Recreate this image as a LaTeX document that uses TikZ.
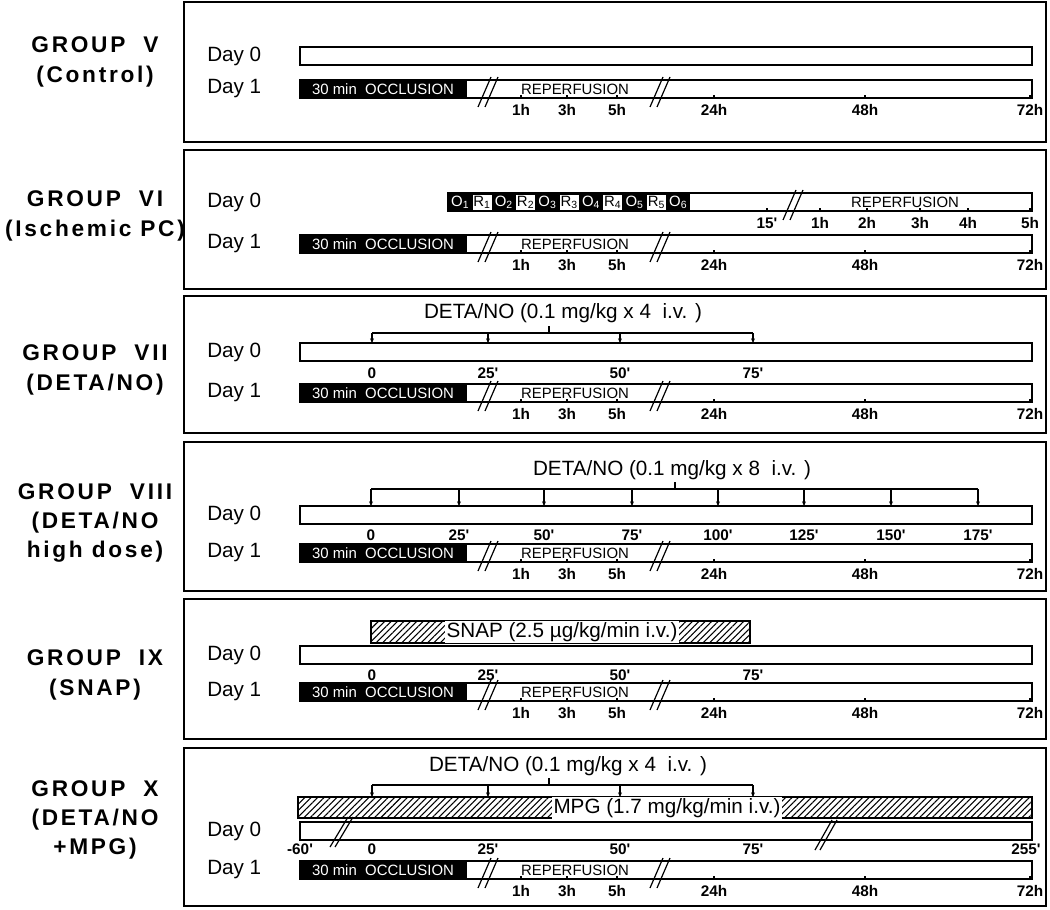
\documentclass[tikz,border=0pt]{standalone}
\usepackage{fontspec}
\setmainfont{Liberation Sans}
\newfontfamily\grpfam{Liberation Sans}[LetterSpace=12]
\usetikzlibrary{arrows.meta,patterns.meta}

\newcommand{\grpfont}{\grpfam\bfseries\fontsize{17pt}{22pt}\selectfont}
\newcommand{\dayfont}{\fontsize{15.5pt}{18pt}\selectfont}
\newcommand{\barfont}{\fontsize{11.2pt}{13pt}\selectfont}
\newcommand{\tickfont}{\bfseries\fontsize{11.5pt}{13pt}\selectfont}
\newcommand{\detafont}{\fontsize{15.5pt}{18pt}\selectfont}
\newcommand{\pr}{\textquotesingle}

\tikzset{
  panel/.style={draw, line width=1.1pt},
  daybar/.style={draw, line width=1pt, fill=white},
  tk/.style={line width=0.8pt},
  brk/.style={line width=0.9pt},
  ticklab/.style={font=\tickfont, inner sep=0pt},
  barlab/.style={font=\barfont, inner sep=0pt},
  daylab/.style={font=\dayfont, anchor=west, inner sep=0pt},
  grplab/.style={font=\grpfont, align=center, inner sep=0pt},
  detalab/.style={font=\detafont, inner sep=0pt},
  dose/.style={line width=0.8pt, -{Stealth[length=3.5pt,width=3pt]}},
  hatchbox/.style={draw, line width=1pt, pattern={Lines[angle=45,distance=3.4pt,line width=0.8pt]}},
  whitelab/.style={font=\detafont, fill=white, inner sep=1pt},
}

% break mark in a bar whose top is at y=0 in the current scope
\newcommand{\BreakMark}[1]{%
  \draw[brk] ({#1-10},27) -- ({#1+3},-3);
  \draw[brk] ({#1-3},27) -- ({#1+10},-3);}

% Day 1 row: #1 = bar top y, #2 = name prefix
\newcommand{\DayOneRow}[2]{%
\begin{scope}[shift={(0,#1)}]
  \node[daylab] (#2dayone) at (207,9) {Day 1};
  \draw[daybar] (300,0) rectangle (1032,18);
  \fill[black] (300,0) rectangle (467,18);
  \node[barlab, text=white] (#2occ) at (383,9.5) {30 min\ \ OCCLUSION};
  \node[barlab] (#2rep) at (575,9.5) {REPERFUSION};
  \foreach \x/\l in {521/1h,567/3h,617/5h,714/24h,865/48h,1030/72h}{
    \draw[tk] (\x,18) -- (\x,14.5);
    \node[ticklab] (#2h\x) at (\x,30) {\l};}
  \BreakMark{488}
  \BreakMark{660}
\end{scope}}

% plain Day 0 bar: #1 = bar top y, #2 = name prefix
\newcommand{\DayZeroRow}[2]{%
\begin{scope}[shift={(0,#1)}]
  \node[daylab] (#2dayzero) at (207,9) {Day 0};
  \draw[daybar] (300,0) rectangle (1032,18);
\end{scope}}

\begin{document}
\begin{tikzpicture}[x=0.75pt,y=-0.75pt]
\useasboundingbox (0,0) rectangle (1050,910);
\fill[white] (0,0) rectangle (1050,910);

% panels
\foreach \t/\b in {2/142,150/289,296/433,442/591,599/739,748/906}
  \draw[panel] (184,\t) rectangle (1046,\b);

% group labels
\node[grplab] (gV)    at (95,62)  {GROUP\ \ V\\(Control)};
\node[grplab] (gVI)   at (95,216) {GROUP\ \ VI\\(Ischemic PC)};
\node[grplab] (gVII)  at (95,370) {GROUP\ \ VII\\(DETA/NO)};
\node[grplab] (gVIII) at (95,523) {GROUP\ \ VIII\\(DETA/NO\\high dose)};
\node[grplab] (gIX)   at (95,675) {GROUP\ \ IX\\(SNAP)};
\node[grplab] (gX)    at (95,820) {GROUP\ \ X\\(DETA/NO\\+MPG)};

% ---------- Group V ----------
\DayZeroRow{47}{v}
\DayOneRow{80}{v}

% ---------- Group VI ----------
\begin{scope}[shift={(0,193)}]
  \node[daylab] (vidayzero) at (207,9) {Day 0};
  \draw[daybar] (448,0) rectangle (1032,18);
  \fill[black] (448,0) rectangle (690,18);
  \foreach \i in {1,...,5}{
    \pgfmathsetmacro{\rx}{448+24.5+43.6*(\i-1)}
    \fill[white] (\rx,1.5) rectangle ({\rx+19},16.5);
    \node[barlab] (viR\i) at ({\rx+9.5},9.5) {R\textsubscript{\i}};}
  \foreach \i in {1,...,6}{
    \pgfmathsetmacro{\ox}{448+12.25+43.6*(\i-1)}
    \node[barlab, text=white] (viO\i) at (\ox,9.5) {O\textsubscript{\i}};}
  \node[barlab] (virep0) at (905,9.5) {REPERFUSION};
  \foreach \x/\l in {767/15\pr,820/1h,867/2h,920/3h,968/4h,1030/5h}{
    \draw[tk] (\x,18) -- (\x,14.5);
    \node[ticklab] (vim\x) at (\x,30) {\l};}
  \BreakMark{793}
\end{scope}
\DayOneRow{235}{vi}

% ---------- Group VII ----------
\node[detalab] (viitxt) at (563,313) {DETA/NO (0.1 mg/kg x 4\ \ i.v. )};
\draw[tk] (372,333) -- (753,333);
\draw[tk] (549,333) -- (549,326);
\foreach \x [count=\i] in {372,488,620,753}{
  \coordinate (viis\i) at (\x,333);
  \coordinate (viie\i) at (\x,343);
  \draw[dose] (viis\i) -- (viie\i);}
\DayZeroRow{343}{vii}
\foreach \x/\l in {372/0,488/25\pr,620/50\pr,753/75\pr}
  \node[ticklab] (viim\x) at (\x,373) {\l};
\DayOneRow{384}{vii}

% ---------- Group VIII ----------
\node[detalab] (viiitxt) at (672,470) {DETA/NO (0.1 mg/kg x 8\ \ i.v. )};
\draw[tk] (371,489) -- (978,489);
\draw[tk] (675,489) -- (675,482);
\foreach \x [count=\i] in {371,459,544,632,718,804,891,978}{
  \coordinate (viiis\i) at (\x,489);
  \coordinate (viiie\i) at (\x,506);
  \draw[dose] (viiis\i) -- (viiie\i);}
\DayZeroRow{506}{viii}
\foreach \x/\l in {371/0,459/25\pr,544/50\pr,632/75\pr,718/100\pr,804/125\pr,891/150\pr,978/175\pr}
  \node[ticklab] (viiim\x) at (\x,535) {\l};
\DayOneRow{544}{viii}

% ---------- Group IX ----------
\draw[hatchbox] (371,621) rectangle (750,643);
\node[whitelab] (ixsnap) at (562,632) {SNAP (2.5 µg/kg/min i.v.)};
\DayZeroRow{646}{ix}
\foreach \x/\l in {372/0,488/25\pr,620/50\pr,753/75\pr}
  \node[ticklab] (ixm\x) at (\x,675) {\l};
\DayOneRow{683}{ix}

% ---------- Group X ----------
\node[detalab] (xtxt) at (568,766) {DETA/NO (0.1 mg/kg x 4\ \ i.v. )};
\draw[tk] (372,785) -- (753,785);
\draw[tk] (549,785) -- (549,778);
\foreach \x [count=\i] in {372,488,620,753}{
  \coordinate (xs\i) at (\x,785);
  \coordinate (xe\i) at (\x,797);
  \draw[dose] (xs\i) -- (xe\i);}
\draw[hatchbox] (298,797) rectangle (1032,818);
\node[whitelab] (xmpg) at (667,808) {MPG (1.7 mg/kg/min i.v.)};
\DayZeroRow{822}{x}
\foreach \x/\l in {300/-60\pr,372/0,488/25\pr,620/50\pr,753/75\pr,1026/255\pr}
  \node[ticklab] (xm\x) at (\x,849) {\l};
\draw[brk] (330,847) -- (348,817);
\draw[brk] (335,847) -- (353,817);
\draw[brk] (815,850) -- (832,820);
\draw[brk] (820,850) -- (837,820);
\DayOneRow{861}{x}

\end{tikzpicture}
\end{document}
